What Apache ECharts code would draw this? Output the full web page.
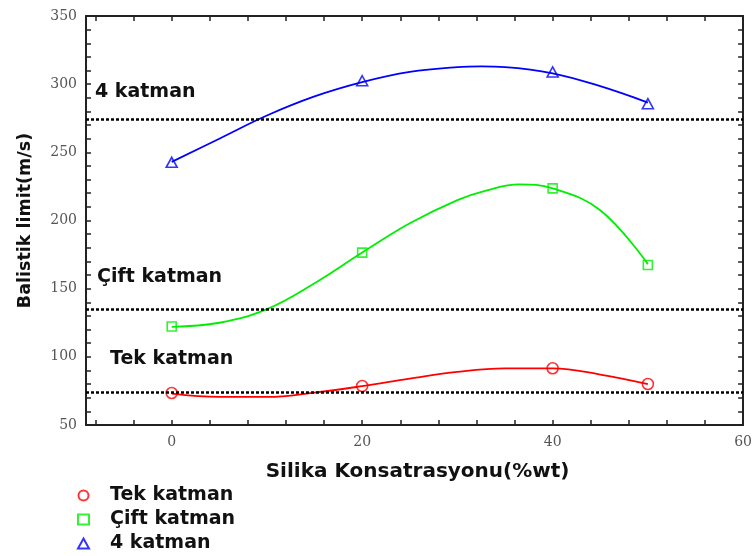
<!DOCTYPE html>
<html>
<head>
<meta charset="utf-8">
<script src="https://cdn.jsdelivr.net/npm/echarts@6/dist/echarts.min.js"></script>
<style>
html,body{margin:0;padding:0;background:#fff;}
#main{width:755px;height:556px;}
</style>
</head>
<body>
<div id="main"></div>
<script>
// Measured points (Silika konsantrasyonu, %wt)
const concentration = [0, 20, 40, 50];
const tekPoints  = [73.5, 78.6, 91.6, 80.1];
const ciftPoints = [122.2, 176.4, 223.6, 167.4];
const dortPoints = [242.7, 302.5, 309.0, 285.7];

// Fitted curves
const tekFitX  = [0, 5, 10, 15, 20, 25, 30, 35, 40, 45, 50];
const tekFit   = [73, 70.6, 70.6, 73.8, 78.5, 84, 89, 91.5, 91.5, 87, 80];
const ciftFitX = [0, 5, 10, 15, 20, 25, 30, 33, 36.5, 40, 45, 50];
const ciftFit  = [122, 125, 135, 154, 176.5, 198, 215, 222, 226.5, 223.5, 207.5, 168];
const dortFitX = [0, 5, 10, 15, 20, 25, 30, 32.5, 35, 40, 45, 50];
const dortFit  = [243, 260, 277, 291, 301.5, 309, 312.5, 313, 312.5, 308, 298.5, 286.5];

// Reference (dotted) levels
const thresholds = [74, 135, 274];

// Axes
const xTicks  = [-8, -4, 0, 4, 8, 12, 16, 20, 24, 28, 32, 36, 40, 44, 48, 52, 56, 60];
const xLabels = [0, 20, 40, 60];
const yTicks  = [50, 60, 70, 80, 90, 100, 110, 120, 130, 140, 150, 160, 170, 180, 190, 200,
                 210, 220, 230, 240, 250, 260, 270, 280, 290, 300, 310, 320, 330, 340, 350];
const yLabels = [50, 100, 150, 200, 250, 300, 350];

const seriesNames = ['Tek katman', 'Çift katman', '4 katman'];
const colors = ['#ff0000', '#00ee00', '#0000ff'];

const pair = (xs, ys) => xs.map((x, i) => [x, ys[i]]);

const chart = echarts.init(document.getElementById('main'), null, {renderer: 'canvas'});

const axisLine = {show: true, onZero: false, lineStyle: {color: '#222', width: 2}};
const tickStyle = {lineStyle: {color: '#222', width: 1.5}};

const option = {
  animation: false,
  backgroundColor: '#fff',
  grid: {left: 86, right: 10, top: 16, bottom: 131, containLabel: false},
  xAxis: [{
    type: 'value', min: -9, max: 60, position: 'bottom',
    name: 'Silika Konsatrasyonu(%wt)', nameLocation: 'middle', nameGap: 37,
    nameTextStyle: {fontFamily: 'DejaVu Sans', fontWeight: 'bold', fontSize: 20, color: '#111', padding: [0, 0, 0, 6]},
    axisLine: axisLine,
    axisTick: Object.assign({show: true, inside: true, length: 5, customValues: xTicks}, tickStyle),
    axisLabel: {show: true, customValues: xLabels, margin: 10, fontFamily: 'DejaVu Serif', fontSize: 14, color: '#555'},
    splitLine: {show: false}
  }, {
    type: 'value', min: -9, max: 60, position: 'top',
    axisLine: axisLine,
    axisTick: Object.assign({show: true, inside: true, length: 5, customValues: xTicks}, tickStyle),
    axisLabel: {show: false},
    splitLine: {show: false}
  }],
  yAxis: [{
    type: 'value', min: 50, max: 350, position: 'left',
    name: 'Balistik limit(m/s)', nameLocation: 'middle', nameGap: 52, nameRotate: 90,
    nameTextStyle: {fontFamily: 'DejaVu Sans', fontWeight: 'bold', fontSize: 17.5, color: '#111'},
    axisLine: axisLine,
    axisTick: Object.assign({show: true, inside: true, length: 5, customValues: yTicks}, tickStyle),
    axisLabel: {show: true, customValues: yLabels, margin: 9, fontFamily: 'DejaVu Serif', fontSize: 14, color: '#555'},
    splitLine: {show: false}
  }, {
    type: 'value', min: 50, max: 350, position: 'right',
    axisLine: axisLine,
    axisTick: Object.assign({show: true, inside: true, length: 5, customValues: yTicks}, tickStyle),
    axisLabel: {show: false},
    splitLine: {show: false}
  }],
  legend: {
    orient: 'vertical', left: 77, top: 486, itemGap: 5, padding: 0,
    itemWidth: 11, itemHeight: 10,
    textStyle: {fontFamily: 'DejaVu Sans', fontWeight: 'bold', fontSize: 19, color: '#111', padding: [0, 0, 0, 16]},
    data: [
      {name: seriesNames[0], icon: 'circle', itemStyle: {color: '#fff', borderColor: colors[0], borderWidth: 2}},
      {name: seriesNames[1], icon: 'rect', itemStyle: {color: '#fff', borderColor: colors[1], borderWidth: 2}},
      {name: seriesNames[2], icon: 'triangle', itemStyle: {color: '#fff', borderColor: colors[2], borderWidth: 2}}
    ]
  },
  graphic: [
    {type: 'text', left: 95, top: 83, style: {text: '4 katman', font: 'bold 19px "DejaVu Sans"', fill: '#111'}},
    {type: 'text', left: 97, top: 268, style: {text: 'Çift katman', font: 'bold 19px "DejaVu Sans"', fill: '#111'}},
    {type: 'text', left: 110, top: 350, style: {text: 'Tek katman', font: 'bold 19px "DejaVu Sans"', fill: '#111'}}
  ],
  series: [
    {
      name: 'levels', type: 'line', data: [], xAxisIndex: 0, yAxisIndex: 0,
      markLine: {
        silent: true, symbol: 'none', animation: false,
        label: {show: false},
        lineStyle: {type: [3, 2], color: '#000', width: 2.5},
        data: thresholds.map(v => ({yAxis: v}))
      }
    },
    {name: 'fit-tek', type: 'line', smooth: 0.4, showSymbol: false, data: pair(tekFitX, tekFit),
     lineStyle: {color: colors[0], width: 1.8}, itemStyle: {color: colors[0]}, z: 3},
    {name: 'fit-cift', type: 'line', smooth: 0.4, showSymbol: false, data: pair(ciftFitX, ciftFit),
     lineStyle: {color: colors[1], width: 1.8}, itemStyle: {color: colors[1]}, z: 3},
    {name: 'fit-dort', type: 'line', smooth: 0.4, showSymbol: false, data: pair(dortFitX, dortFit),
     lineStyle: {color: colors[2], width: 1.8}, itemStyle: {color: colors[2]}, z: 3},
    {name: seriesNames[0], type: 'scatter', symbol: 'circle', symbolSize: 11, data: pair(concentration, tekPoints),
     itemStyle: {color: 'rgba(255,255,255,0)', borderColor: colors[0], borderWidth: 1.6}, z: 4},
    {name: seriesNames[1], type: 'scatter', symbol: 'rect', symbolSize: 9, data: pair(concentration, ciftPoints),
     itemStyle: {color: 'rgba(255,255,255,0)', borderColor: colors[1], borderWidth: 1.6}, z: 4},
    {name: seriesNames[2], type: 'scatter', symbol: 'triangle', symbolSize: [11, 10], data: pair(concentration, dortPoints),
     itemStyle: {color: 'rgba(255,255,255,0)', borderColor: colors[2], borderWidth: 1.6}, z: 4}
  ]
};
chart.setOption(option);
</script>
</body>
</html>
